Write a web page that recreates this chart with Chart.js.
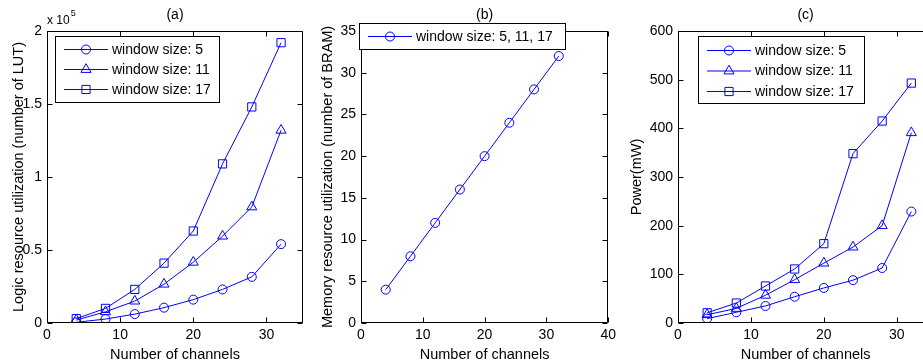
<!DOCTYPE html>
<html>
<head>
<meta charset="utf-8">
<script src="https://cdn.jsdelivr.net/npm/chart.js@4.4.1/dist/chart.umd.min.js"></script>
<style>
  html, body { margin: 0; padding: 0; background: #fff; overflow: hidden; width: 923px; height: 363px; }
  canvas { position: absolute; top: 0; }
</style>
</head>
<body>
<canvas id="chartA" width="310" height="363" style="left:0px"></canvas>
<canvas id="chartB" width="310" height="363" style="left:310px"></canvas>
<canvas id="chartC" width="320" height="363" style="left:620px"></canvas>
<script>
// data
const channels = [4, 8, 12, 16, 20, 24, 28, 32];

// (a) logic resource (number of LUT)
const lutWin5 = [500, 2700, 6100, 10500, 16000, 23000, 31600, 54000];
const lutWin11 = [2000, 7700, 15000, 26600, 41600, 59500, 79500, 132000];
const lutWin17 = [3000, 10000, 23000, 41000, 63000, 109000, 148000, 192000];

// (b) memory resource (number of BRAM), same for all window sizes
const bramAll = [4, 8, 12, 16, 20, 24, 28, 32];

// (c) power in mW
const powerWin5 = [9, 22, 35, 54, 72, 88, 113, 229];
const powerWin11 = [17, 30, 57, 89, 123, 156, 200, 391];
const powerWin17 = [21, 41, 76, 111, 163, 348, 415, 493];

// tick labels
const xTicksAC = [0, 10, 20, 30];
const xTicksB = [0, 10, 20, 30, 40];
const yTicksA = [0, 50000, 100000, 150000, 200000];
const yTicksB = [0, 5, 10, 15, 20, 25, 30, 35];
const yTicksC = [0, 100, 200, 300, 400, 500, 600];

const labelsABC = ['window size: 5', 'window size: 11', 'window size: 17'];
const labelB = 'window size: 5, 11, 17';

const fontFamily = '"Liberation Sans", Arial, Helvetica, sans-serif';
const blue = '#0000ff';

// matlab-like frame: box, inward ticks, panel title, legend box
const matlabAxes = {
    id: 'matlabAxes',
    afterDraw(chart, args, opts) {
        const ctx = chart.ctx;
        const area = chart.chartArea;
        const xs = chart.scales.x;
        const ys = chart.scales.y;
        const L = Math.round(area.left) + 0.5;
        const R = Math.round(area.right) - 0.5;
        const T = Math.round(area.top) + 0.5;
        const B = Math.round(area.bottom) - 0.5;

        ctx.save();
        ctx.strokeStyle = '#000';
        ctx.lineWidth = 1;
        ctx.beginPath();
        ctx.rect(L, T, R - L, B - T);
        xs.ticks.forEach((t) => {
            const px = Math.round(xs.getPixelForValue(t.value)) + 0.5;
            ctx.moveTo(px, B); ctx.lineTo(px, B - 5);
            ctx.moveTo(px, T); ctx.lineTo(px, T + 5);
        });
        ys.ticks.forEach((t) => {
            const py = Math.round(ys.getPixelForValue(t.value)) + 0.5;
            ctx.moveTo(L, py); ctx.lineTo(L + 5, py);
            ctx.moveTo(R, py); ctx.lineTo(R - 5, py);
        });
        ctx.stroke();

        // panel title
        ctx.fillStyle = '#000';
        ctx.font = '14px ' + fontFamily;
        ctx.textAlign = 'center';
        ctx.textBaseline = 'middle';
        ctx.fillText(opts.title, (area.left + area.right) / 2, 15);

        // exponent label
        if (opts.exponent) {
            ctx.textAlign = 'left';
            ctx.textBaseline = 'alphabetic';
            ctx.font = '12px ' + fontFamily;
            ctx.fillText('x 10', area.left, 24);
            const w = ctx.measureText('x 10').width;
            ctx.font = '9px ' + fontFamily;
            ctx.fillText(opts.exponent, area.left + w + 1, 16);
        }

        // legend
        const lg = opts.legend;
        ctx.fillStyle = '#fff';
        ctx.fillRect(lg.left, lg.top, lg.width, lg.height);
        ctx.strokeRect(lg.left + 0.5, lg.top + 0.5, lg.width, lg.height);
        chart.data.datasets.forEach((ds, i) => {
            const ry = lg.top + lg.firstRow + i * lg.rowGap;
            ctx.strokeStyle = ds.borderColor;
            ctx.beginPath();
            ctx.moveTo(lg.left + 9, ry + 0.5);
            ctx.lineTo(lg.left + 53, ry + 0.5);
            ctx.stroke();
            ctx.fillStyle = 'rgba(0,0,0,0)';
            Chart.helpers.drawPoint(ctx, {
                pointStyle: ds.pointStyle,
                radius: ds.pointRadius,
                rotation: 0,
                borderWidth: 1
            }, lg.left + 31, ry + 0.5);
            ctx.fillStyle = '#000';
            ctx.font = '14px ' + fontFamily;
            ctx.textAlign = 'left';
            ctx.textBaseline = 'middle';
            ctx.fillText(ds.label, lg.left + 57, ry + 1);
        });
        ctx.restore();
    }
};

function makeDataset(label, values, style, radius) {
    return {
        label: label,
        data: values,
        borderColor: blue,
        borderWidth: 1,
        pointStyle: style,
        pointRadius: radius,
        pointHoverRadius: radius,
        pointBorderColor: blue,
        pointBackgroundColor: 'rgba(0,0,0,0)',
        pointBorderWidth: 1,
        fill: false,
        tension: 0
    };
}

function makeOptions(cfg) {
    return {
        responsive: false,
        animation: false,
        devicePixelRatio: 1,
        layout: { padding: { left: 0, top: 31, right: cfg.padRight, bottom: 0 } },
        plugins: {
            legend: { display: false },
            tooltip: { enabled: false },
            matlabAxes: cfg.frame
        },
        scales: {
            x: {
                type: 'linear',
                min: 0,
                max: cfg.xMax,
                grid: { display: false, drawTicks: false },
                border: { display: false },
                afterBuildTicks: (s) => { s.ticks = cfg.xTicks.map((v) => ({ value: v })); },
                afterFit: (s) => { s.height = 40; },
                ticks: { color: '#000', padding: 4, font: { size: 14, family: fontFamily } },
                title: {
                    display: true,
                    text: 'Number of channels',
                    color: '#000',
                    padding: { top: 0, bottom: -0.5 },
                    font: { size: 14.5, family: fontFamily }
                }
            },
            y: {
                type: 'linear',
                min: 0,
                max: cfg.yMax,
                grid: { display: false, drawTicks: false },
                border: { display: false },
                afterBuildTicks: (s) => { s.ticks = cfg.yTicks.map((v) => ({ value: v })); },
                afterFit: (s) => { s.width = cfg.yWidth; },
                ticks: {
                    color: '#000',
                    padding: 5,
                    font: { size: 14, family: fontFamily },
                    callback: cfg.yFormat || ((v) => v)
                },
                title: {
                    display: true,
                    text: cfg.yTitle,
                    color: '#000',
                    padding: { top: cfg.yTitlePad, bottom: 0 },
                    font: { size: 14.5, family: fontFamily }
                }
            }
        }
    };
}

function toPoints(values) {
    return values.map((v, i) => ({ x: channels[i], y: v }));
}

// (a)
new Chart(document.getElementById('chartA').getContext('2d'), {
    type: 'line',
    data: {
        datasets: [
            makeDataset(labelsABC[0], toPoints(lutWin5), 'circle', 4.5),
            makeDataset(labelsABC[1], toPoints(lutWin11), 'triangle', 5.8),
            makeDataset(labelsABC[2], toPoints(lutWin17), 'rect', 5.8)
        ]
    },
    options: makeOptions({
        padRight: 7, yWidth: 47, xMax: 35, yMax: 200000,
        xTicks: xTicksAC, yTicks: yTicksA,
        yFormat: (v) => v / 100000,
        yTitle: 'Logic resource utilization (number of LUT)', yTitlePad: 9.8,
        frame: {
            title: '(a)', exponent: '5',
            legend: { left: 55, top: 36, width: 164, height: 66, firstRow: 13, rowGap: 20 }
        }
    }),
    plugins: [matlabAxes]
});

// (b)
new Chart(document.getElementById('chartB').getContext('2d'), {
    type: 'line',
    data: {
        datasets: [
            makeDataset(labelB, toPoints(bramAll), 'circle', 4.5)
        ]
    },
    options: makeOptions({
        padRight: 3, yWidth: 51, xMax: 40, yMax: 35,
        xTicks: xTicksB, yTicks: yTicksB,
        yTitle: 'Memory resource utilization (number of BRAM)', yTitlePad: 9,
        frame: {
            title: '(b)',
            legend: { left: 49, top: 23, width: 206, height: 26, firstRow: 13, rowGap: 20 }
        }
    }),
    plugins: [matlabAxes]
});

// (c)
new Chart(document.getElementById('chartC').getContext('2d'), {
    type: 'line',
    data: {
        datasets: [
            makeDataset(labelsABC[0], toPoints(powerWin5), 'circle', 4.5),
            makeDataset(labelsABC[1], toPoints(powerWin11), 'triangle', 5.8),
            makeDataset(labelsABC[2], toPoints(powerWin17), 'rect', 5.8)
        ]
    },
    options: makeOptions({
        padRight: 6, yWidth: 58, xMax: 35, yMax: 600,
        xTicks: xTicksAC, yTicks: yTicksC,
        yTitle: 'Power(mW)', yTitlePad: 8,
        frame: {
            title: '(c)',
            legend: { left: 78, top: 36, width: 166, height: 67, firstRow: 14, rowGap: 20.5 }
        }
    }),
    plugins: [matlabAxes]
});
</script>
</body>
</html>
